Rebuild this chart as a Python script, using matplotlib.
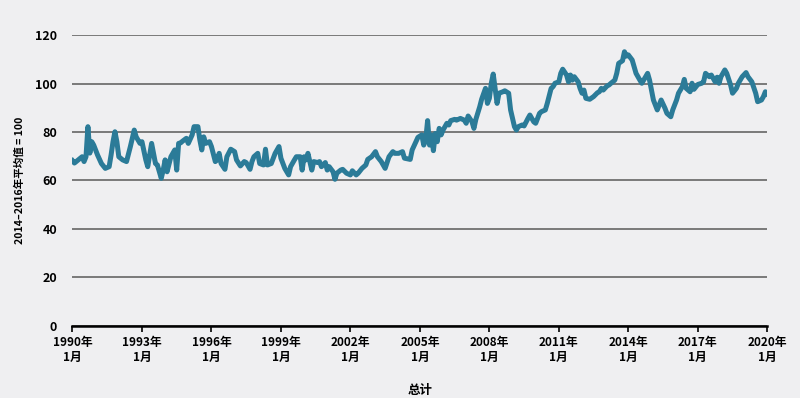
"""Index line chart, monthly, Jan 1990 - Jan 2020 (2014-2016 average = 100)."""

import matplotlib

matplotlib.use("Agg")
import matplotlib.pyplot as plt

# months since Jan 1990, and index value
months = [
    0, 1, 3, 5, 6, 7, 8, 9, 10, 11, 12, 13, 15, 17, 19, 20, 21, 22, 23, 24,
    26, 28, 30, 32, 33, 35, 36, 38, 39, 41, 43, 44, 46, 47, 48, 49, 51, 53, 54, 55,
    56, 57, 59, 60, 62, 63, 65, 66, 67, 68, 69, 71, 72, 74, 75, 76, 77, 79, 80, 82,
    84, 85, 87, 89, 90, 92, 93, 94, 96, 97, 99, 100, 101, 103, 105, 107, 108, 110, 112, 113,
    115, 116, 118, 119, 120, 121, 122, 124, 125, 127, 128, 129, 131, 132, 133, 135, 136, 137, 139, 140,
    142, 144, 145, 147, 148, 150, 152, 153, 155, 157, 158, 160, 161, 162, 164, 166, 167, 169, 171, 172,
    175, 176, 178, 179, 181, 182, 183, 184, 185, 186, 187, 188, 189, 190, 191, 192, 194, 195, 196, 198,
    199, 201, 203, 204, 205, 207, 208, 209, 211, 212, 214, 215, 216, 217, 218, 219, 220, 221, 223, 224,
    226, 227, 229, 230, 231, 233, 234, 236, 237, 239, 240, 242, 243, 245, 246, 248, 249, 250, 252, 253,
    254, 256, 257, 258, 259, 260, 262, 263, 264, 265, 266, 268, 270, 272, 273, 274, 275, 277, 278, 279,
    281, 282, 283, 285, 286, 287, 288, 290, 291, 292, 294, 295, 297, 298, 299, 300, 301, 303, 304, 305,
    307, 308, 310, 311, 313, 314, 316, 317, 318, 320, 321, 322, 324, 326, 327, 328, 330, 331, 333, 334,
    335, 336, 338, 339, 341, 342, 344, 345, 347, 349, 350, 352, 354, 355, 357, 358, 359, 360,
]
values = [
    68.2, 67.2, 68.5, 69.8, 67.8, 69.8, 82.2, 71.3, 76.0, 74.6, 72.6, 70.5, 67.0, 65.0, 65.7, 70.5, 76.0, 80.1, 76.0, 69.8,
    68.5, 67.8, 74.0, 80.8, 78.0, 75.3, 76.0, 68.5, 65.7, 75.3, 67.0, 66.4, 60.9, 64.3, 68.5, 63.6, 69.8, 72.6, 64.3, 75.3,
    75.5, 76.2, 77.4, 75.3, 78.8, 82.2, 82.2, 76.7, 72.6, 78.0, 75.3, 76.0, 74.0, 67.8, 68.5, 71.2, 67.0, 64.6, 69.8, 72.9,
    71.9, 68.5, 66.0, 67.8, 67.4, 64.6, 67.8, 69.8, 71.2, 67.0, 66.4, 72.9, 66.4, 67.0, 71.2, 74.0, 69.2, 65.0, 62.3, 65.7,
    68.5, 69.8, 69.8, 64.3, 69.8, 68.5, 71.2, 64.3, 67.8, 67.4, 67.8, 65.7, 67.4, 64.3, 65.7, 63.6, 60.5, 63.0, 64.3, 64.6,
    63.0, 62.3, 64.0, 62.3, 63.0, 65.0, 66.4, 68.7, 69.8, 71.9, 69.8, 67.8, 66.4, 65.0, 69.8, 71.9, 71.2, 71.2, 71.9, 69.2,
    68.7, 72.6, 76.0, 77.8, 78.8, 74.6, 76.7, 84.7, 74.6, 78.8, 72.3, 79.4, 76.0, 81.5, 78.8, 80.8, 83.6, 82.9, 84.7, 85.2,
    84.9, 85.6, 84.9, 83.6, 86.6, 84.2, 81.5, 85.2, 90.4, 93.5, 98.0, 91.8, 93.9, 100.1, 103.9, 98.0, 91.8, 96.0, 96.6, 97.0,
    96.0, 89.1, 82.2, 80.8, 82.2, 82.9, 82.5, 85.6, 87.0, 84.2, 83.6, 87.7, 88.4, 89.1, 91.8, 98.0, 98.7, 100.1, 100.7, 104.2,
    105.9, 103.5, 100.7, 103.5, 101.4, 102.8, 100.7, 98.0, 96.0, 97.3, 93.9, 93.5, 94.6, 96.2, 96.6, 98.0, 97.3, 99.0, 99.4, 100.1,
    101.4, 104.2, 108.3, 109.4, 113.1, 111.3, 111.8, 109.7, 106.9, 104.2, 101.4, 100.1, 102.8, 104.2, 101.4, 97.3, 93.2, 89.1, 91.1, 93.2,
    89.8, 87.7, 86.3, 89.1, 93.2, 96.0, 98.7, 101.7, 98.0, 96.6, 100.1, 97.6, 99.6, 100.1, 100.7, 104.2, 102.8, 103.5, 100.7, 102.6,
    100.1, 102.8, 105.6, 104.2, 99.4, 96.0, 98.0, 100.1, 102.8, 104.5, 102.8, 100.7, 96.0, 92.5, 93.2, 94.6, 96.6, 95.7,
]

tick_years = [1990, 1993, 1996, 1999, 2002, 2005, 2008, 2011, 2014, 2017, 2020]
tick_labels = [f"{y}年\n1月" for y in tick_years]
y_ticks = [0, 20, 40, 60, 80, 100, 120]

plt.rcParams["font.family"] = ["Noto Sans CJK SC", "DejaVu Sans"]

bg = "#efeff1"
fig = plt.figure(figsize=(8, 3.98), dpi=100, facecolor=bg)
ax = fig.add_axes([0.0906, 0.181, 0.8685, 0.731], facecolor=bg)

ax.plot(months, values, color="#2b7b98", linewidth=3.6, solid_joinstyle="round", zorder=3)

# grid and axes
ax.set_ylim(0, 120)
ax.set_xlim(0, 360)
ax.set_yticks(y_ticks)
ax.set_yticklabels([str(v) for v in y_ticks], fontsize=9, fontweight="bold")
ax.yaxis.grid(True, color="#707070", linewidth=1.3)
ax.tick_params(axis="y", length=0, pad=11)

ax.set_xticks([(y - 1990) * 12 for y in tick_years])
ax.set_xticklabels(tick_labels, fontsize=8.5, fontweight="bold", linespacing=1.25)
ax.tick_params(axis="x", length=4, width=1.2, direction="out", color="black", pad=3)

for side in ["top", "right", "left"]:
    ax.spines[side].set_visible(False)
ax.spines["bottom"].set_linewidth(1.8)
ax.spines["bottom"].set_color("black")
ax.spines["bottom"].set_zorder(4)

ax.set_ylabel("2014–2016年平均值 = 100", fontsize=7.6, fontweight="bold")
ax.yaxis.set_label_coords(-0.068, 0.5)
ax.set_xlabel("总计", fontsize=9, fontweight="bold", labelpad=14)

plt.savefig("out.png", dpi=100, facecolor=bg)
plt.close()
